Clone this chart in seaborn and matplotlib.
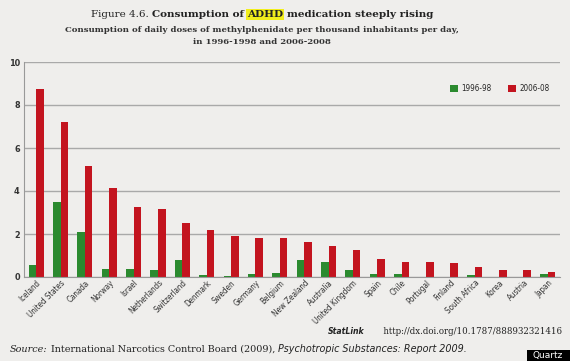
import matplotlib
matplotlib.use("Agg")
import matplotlib.pyplot as plt
import seaborn as sns
import pandas as pd
import numpy as np
from matplotlib import font_manager as fm
from matplotlib.ticker import FixedLocator

countries = ["Iceland", "United States", "Canada", "Norway", "Israel", "Netherlands",
             "Switzerland", "Denmark", "Sweden", "Germany", "Belgium", "New Zealand",
             "Australia", "United Kingdom", "Spain", "Chile", "Portugal", "Finland",
             "South Africa", "Korea", "Austria", "Japan"]
v_1996 = [0.55, 3.5, 2.07, 0.39, 0.39, 0.33, 0.78, 0.09, 0.03, 0.14, 0.2, 0.81,
          0.69, 0.31, 0.16, 0.13, 0.0, 0.0, 0.09, 0.02, 0.0, 0.14]
v_2006 = [8.75, 7.2, 5.18, 4.15, 3.27, 3.16, 2.52, 2.19, 1.93, 1.82, 1.82, 1.62,
          1.43, 1.25, 0.83, 0.72, 0.72, 0.67, 0.45, 0.31, 0.31, 0.25]
periods = ["1996-98", "2006-08"]
y_ticks = [0, 2, 4, 6, 8, 10]

df = pd.DataFrame({
    "country": countries * 2,
    "value": v_1996 + v_2006,
    "period": [periods[0]] * len(countries) + [periods[1]] * len(countries),
})

W, H = 570, 361
BG = "#efeeec"
GREEN = "#2b8a2f"
RED = "#c3141f"

sns.set_theme(style="white")
names = {f.name for f in fm.fontManager.ttflist}
if "Liberation Sans Narrow" in names:
    NARROW = dict(family="Liberation Sans Narrow")
else:
    NARROW = dict(family="DejaVu Sans", stretch="condensed")
serif = "DejaVu Serif"
plt.rcParams["font.family"] = ["DejaVu Sans"]

fig = plt.figure(figsize=(W / 100, H / 100), dpi=100, facecolor=BG)
ax = fig.add_axes([24 / W, 1 - 277 / H, (560 - 24) / W, (277 - 62) / H])
ax.set_facecolor(BG)

sns.barplot(data=df, x="country", y="value", hue="period", palette=[GREEN, RED],
            width=0.62, gap=0, saturation=1, ax=ax, legend=True, linewidth=0,
            edgecolor="none")

ax.set_ylim(0, 10)
ax.set_xlim(-0.5, len(countries) - 0.5)
ax.set_yticks(y_ticks)
ax.set_yticklabels([str(t) for t in y_ticks], fontsize=6.5, fontweight="bold",
                   color="#333333", **NARROW)
ax.yaxis.grid(True, color="#a9a9a9", lw=1)
ax.set_axisbelow(True)
ax.set_xlabel("")
ax.set_ylabel("")
ax.tick_params(axis="y", length=0, pad=3)
ax.tick_params(axis="x", which="major", length=0, pad=1)
ax.xaxis.set_minor_locator(FixedLocator(np.arange(-0.5, len(countries), 1)))
ax.tick_params(axis="x", which="minor", length=3, color="#999999", width=0.8, direction="out")
ax.set_xticks(range(len(countries)))
ax.set_xticklabels(countries, rotation=45, ha="right", rotation_mode="anchor",
                   fontsize=5.8, color="#333333", **NARROW)
for s in ["top", "right"]:
    ax.spines[s].set_visible(False)
for s in ["left", "bottom"]:
    ax.spines[s].set_color("#999999")
    ax.spines[s].set_linewidth(0.8)

leg_prop = dict(size=5.8, **NARROW)
ax.legend(ncol=2, loc="upper right", bbox_to_anchor=(557 / W, 1 - 77 / H),
          bbox_transform=fig.transFigure, frameon=False, handlelength=0.95,
          handleheight=0.95, handletextpad=0.5, columnspacing=2.0,
          prop=leg_prop)

renderer = fig.canvas.get_renderer()


def line(pieces, y, size, family=serif, color="#222222"):
    texts = []
    for s, kw in pieces:
        props = dict(fontsize=size, family=family, color=color, va="baseline")
        props.update(kw)
        t = fig.text(0, 1 - y / H, s, **props)
        texts.append(t)
    sp = fig.text(0, 0, "a a", fontsize=size, family=family)
    nsp = fig.text(0, 0, "aa", fontsize=size, family=family)
    gap = sp.get_window_extent(renderer).width - nsp.get_window_extent(renderer).width
    sp.remove()
    nsp.remove()
    widths = [t.get_window_extent(renderer).width for t in texts]
    total = sum(widths) + gap * (len(texts) - 1)
    return texts, widths, gap, total


def place(texts, widths, gap, x0):
    x = x0
    for t, w in zip(texts, widths):
        t.set_x(x / W)
        x += w + gap


t, w, g, tot = line([("Figure 4.6.", {}), ("Consumption of", {"fontweight": "bold"}),
                     ("ADHD", {"fontweight": "bold",
                               "bbox": dict(boxstyle="square,pad=0.08", fc="#f2ee1c", ec="none")}),
                     ("medication steeply rising", {"fontweight": "bold"})], 17, 7.5)
place(t, w, g, 262 - tot / 2)

t, w, g, tot = line([("Consumption of daily doses of methylphenidate per thousand inhabitants per day,",
                      {"fontweight": "bold"})], 32, 6.1, color="#333333")
place(t, w, g, 262 - tot / 2)
t, w, g, tot = line([("in 1996-1998 and 2006-2008", {"fontweight": "bold"})], 44, 6.1,
                    color="#333333")
place(t, w, g, 262 - tot / 2)

t, w, g, tot = line([("StatLink", dict(fontweight="bold", style="italic", **NARROW)),
                     ("      http://dx.doi.org/10.1787/888932321416", {})], 334, 6.2,
                    color="#222222")
place(t, w, g, 562 - tot)

t, w, g, tot = line([("Source:", {"style": "italic"}),
                     ("International Narcotics Control Board (2009),", {}),
                     ("Psychotropic Substances: Report 2009.", {"style": "italic", "family": "DejaVu Sans"})],
                    352, 6.9, color="#222222")
place(t, w, g, 10)

fig.patches.append(plt.Rectangle((527 / W, 0), 43 / W, 11 / H, transform=fig.transFigure,
                                 fc="black", ec="none"))
fig.text(548 / W, 5.5 / H, "Quartz", color="white", fontsize=6.5, ha="center", va="center")

fig.savefig("out.png", dpi=100, facecolor=BG)
